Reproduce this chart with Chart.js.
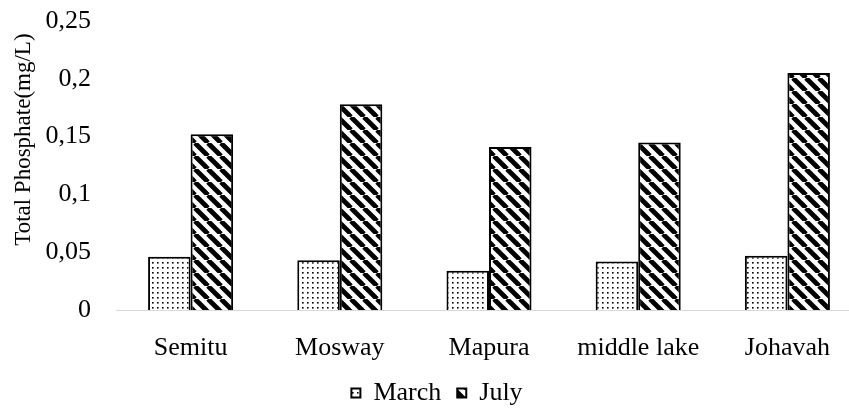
<!DOCTYPE html>
<html>
<head>
<meta charset="utf-8">
<script src="https://cdn.jsdelivr.net/npm/chart.js@4.4.1/dist/chart.umd.min.js"></script>
<style>
  html, body { margin: 0; padding: 0; background: #fff; overflow: hidden; }
  #wrap { position: absolute; left: 0; top: 0; width: 870px; height: 409px; }
</style>
</head>
<body>
<div id="wrap"><canvas id="chart"></canvas></div>
<script>
const sites = ['Semitu', 'Mosway', 'Mapura', 'middle lake', 'Johavah'];
const march = [0.046, 0.043, 0.034, 0.042, 0.047];
const july = [0.152, 0.178, 0.141, 0.145, 0.205];
const yTicks = [0, 0.05, 0.1, 0.15, 0.2, 0.25];

const FONT = '"Liberation Serif", "Times New Roman", serif';
const FS = 26;

// dotted fill for March
function dotPattern() {
  const c = document.createElement('canvas');
  c.width = 5; c.height = 5;
  const g = c.getContext('2d');
  g.fillStyle = '#fff';
  g.fillRect(0, 0, 5, 5);
  g.fillStyle = '#000';
  g.fillRect(2, 2, 1.6, 1.6);
  return g.createPattern(c, 'repeat');
}

// thick "\" stripes for July
function stripePattern() {
  const s = 13;
  const c = document.createElement('canvas');
  c.width = s; c.height = s;
  const g = c.getContext('2d');
  g.fillStyle = '#fff';
  g.fillRect(0, 0, s, s);
  g.strokeStyle = '#000';
  g.lineWidth = 4.8;
  for (const off of [-s, 0, s]) {
    g.beginPath();
    g.moveTo(off, 0);
    g.lineTo(off + s, s);
    g.stroke();
  }
  return g.createPattern(c, 'repeat');
}

// nudge the legend sideways to where the original sits
const legendShift = {
  id: 'legendShift',
  afterLayout(chart) {
    const lg = chart.legend;
    if (!lg) return;
    lg.left += 6; lg.right += 6;
  }
};

const ctx = document.getElementById('chart');
new Chart(ctx, {
  type: 'bar',
  data: {
    labels: sites,
    datasets: [
      { label: 'March', data: march, backgroundColor: dotPattern(), borderColor: '#000', borderWidth: 2 },
      { label: 'July', data: july, backgroundColor: stripePattern(), borderColor: '#000', borderWidth: 2 }
    ]
  },
  plugins: [legendShift],
  options: {
    responsive: true,
    maintainAspectRatio: false,
    animation: false,
    categoryPercentage: 0.57,
    barPercentage: 1,
    layout: { padding: { top: 21, right: 8, bottom: -7, left: 0 } },
    plugins: {
      tooltip: { enabled: false },
      legend: {
        position: 'bottom',
        labels: {
          font: { family: FONT, size: FS },
          color: '#000',
          boxWidth: 9,
          boxHeight: 9,
          padding: 16
        }
      }
    },
    scales: {
      x: {
        grid: { display: false },
        border: { color: '#d9d9d9', width: 1 },
        ticks: { font: { family: FONT, size: FS }, color: '#000', padding: 15 },
        afterFit: (s) => { s.height = 54; }
      },
      y: {
        min: 0,
        max: 0.25,
        afterBuildTicks: (s) => { s.ticks = yTicks.map(v => ({ value: v })); },
        grid: { display: false, drawTicks: false },
        border: { display: false },
        ticks: {
          font: { family: FONT, size: FS },
          color: '#000',
          padding: 25,
          callback: (v) => String(Math.round(v * 100) / 100).replace('.', ',')
        },
        title: {
          display: true,
          text: '         Total Phosphate(mg/L)',
          font: { family: FONT, size: 23 },
          color: '#000',
          padding: { top: 10, bottom: 0 }
        },
        afterFit: (s) => {
          s.width = 116;
          s.paddingTop = 0;
          s.paddingBottom = 0;
        }
      }
    }
  }
});
</script>
</body>
</html>
